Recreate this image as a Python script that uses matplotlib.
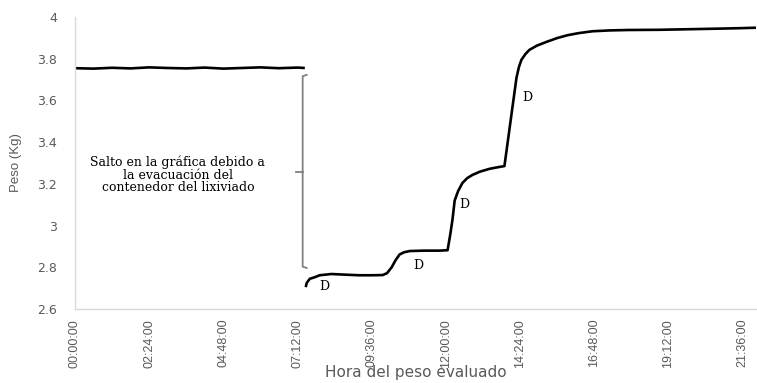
import matplotlib
matplotlib.use("Agg")
import matplotlib.pyplot as plt
import numpy as np

# horas (decimal) y peso (kg)
horas_1 = [0.0, 0.6, 1.2, 1.8, 2.4, 3.0, 3.6, 4.2, 4.8, 5.4, 6.0, 6.6, 7.2, 7.44]
peso_1 = [3.754, 3.752, 3.756, 3.753, 3.758, 3.755, 3.753, 3.757, 3.752, 3.755, 3.758, 3.754, 3.757, 3.755]

horas_2 = [7.47, 7.50, 7.60, 7.75, 7.92, 8.3, 8.73, 9.2, 9.6, 9.96, 10.1, 10.25, 10.38, 10.51,
           10.65, 10.83, 11.3, 11.8, 12.06, 12.15, 12.22, 12.29, 12.4, 12.54, 12.7, 12.87,
           13.1, 13.42, 13.7, 13.90, 13.95, 14.1, 14.29, 14.37, 14.45, 14.58, 14.71, 14.95,
           15.26, 15.6, 15.94, 16.3, 16.75, 17.3, 17.9, 18.91, 19.6, 20.3, 21.0, 21.6, 22.05]
peso_2 = [2.705, 2.725, 2.745, 2.752, 2.762, 2.768, 2.765, 2.762, 2.762, 2.763, 2.772, 2.800,
          2.835, 2.862, 2.872, 2.878, 2.880, 2.880, 2.882, 2.960, 3.030, 3.120, 3.165, 3.204,
          3.228, 3.243, 3.258, 3.272, 3.280, 3.285, 3.339, 3.502, 3.708, 3.760, 3.794, 3.822,
          3.842, 3.862, 3.880, 3.898, 3.912, 3.922, 3.931, 3.935, 3.937, 3.938, 3.940, 3.942,
          3.944, 3.946, 3.948]

ticks_h = np.arange(0, 22, 2.4)
tick_labels = ["00:00:00", "02:24:00", "04:48:00", "07:12:00", "09:36:00",
               "12:00:00", "14:24:00", "16:48:00", "19:12:00", "21:36:00"]

d_labels = [(8.08, 2.710), (11.12, 2.811), (12.61, 3.099), (14.65, 3.616)]

grey = "#595959"

fig = plt.figure(figsize=(7.57, 3.83), dpi=100)
ax = fig.add_axes([0.099, 0.193, 0.9, 0.763])

ax.plot(horas_1, peso_1, color="black", lw=1.9, solid_capstyle="butt")
ax.plot(horas_2, peso_2, color="black", lw=1.9, solid_capstyle="butt")

ax.set_xlim(0, 22.05)
ax.set_ylim(2.6, 4.0)
ax.set_xticks(ticks_h)
ax.set_xticklabels(tick_labels, rotation=90, fontsize=9, color=grey,
                   family="Liberation Sans")
ax.set_yticks([2.6, 2.8, 3.0, 3.2, 3.4, 3.6, 3.8, 4.0])
ax.set_yticklabels(["2.6", "2.8", "3", "3.2", "3.4", "3.6", "3.8", "4"],
                   fontsize=9, color=grey, family="DejaVu Sans")
ax.tick_params(axis="y", length=0, pad=13)
ax.tick_params(axis="x", length=0, pad=7)

for s in ["top", "right"]:
    ax.spines[s].set_visible(False)
for s in ["left", "bottom"]:
    ax.spines[s].set_color("#d9d9d9")
    ax.spines[s].set_linewidth(1.0)

ax.set_ylabel("Peso (Kg)", fontsize=9.5, color=grey, family="Liberation Sans")
ax.yaxis.set_label_coords(-0.077, 0.5)
xl = ax.set_xlabel("Hora del peso evaluado", fontsize=11, color=grey, family="DejaVu Sans")
ax.xaxis.set_label_coords(0.5, -0.216)
xl.set_va("center")

# llave de la anotacion
bx = 7.37
ax.plot([bx + 0.13, bx, bx, bx + 0.13], [3.722, 3.716, 2.803, 2.797], color="#808080", lw=1.3)
ax.plot([bx - 0.22, bx], [3.257, 3.257], color="#808080", lw=1.3)

ax.text(3.33, 3.243, "Salto en la gráfica debido a\nla evacuación del\ncontenedor del lixiviado",
        ha="center", va="center", fontsize=9, family="DejaVu Serif", linespacing=0.95)

for x, y in d_labels:
    ax.text(x, y, "D", ha="center", va="center", fontsize=9, family="DejaVu Serif")

fig.savefig("out.png", dpi=100)
